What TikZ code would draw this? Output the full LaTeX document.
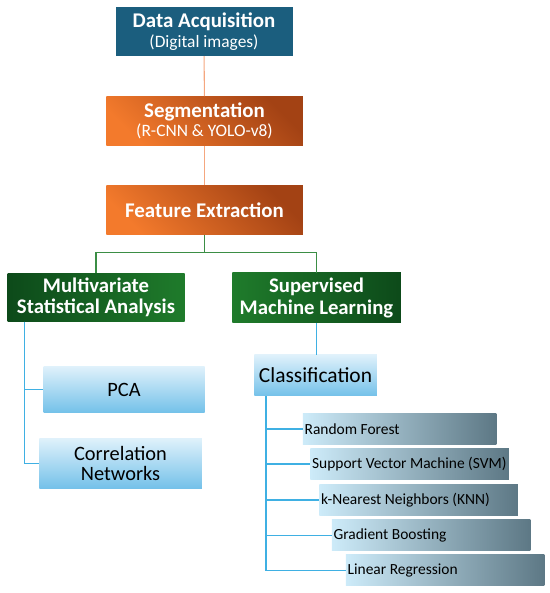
\documentclass[tikz,border=0pt]{standalone}
\usepackage{fontspec}
\setmainfont{Carlito}
\usepackage{xcolor}
\definecolor{acqBlue}{HTML}{1B5E7E}
\definecolor{segLight}{HTML}{F37A2C}
\definecolor{segDark}{HTML}{A34214}
\definecolor{grnDark}{HTML}{0D4A1A}
\definecolor{grnLight}{HTML}{1F7B2B}
\definecolor{boxTop}{HTML}{DFF1FB}
\definecolor{boxBot}{HTML}{74C1E9}
\definecolor{algLeft}{HTML}{CDEBF9}
\definecolor{algRight}{HTML}{5D7885}
\definecolor{orLine}{HTML}{F5A77F}
\definecolor{grLine}{HTML}{3B8E45}
\definecolor{blLine}{HTML}{3FB0E3}
\usepackage{tikz}
\usetikzlibrary{calc}
\newcommand{\titlefont}{\fontsize{11.9}{13}\selectfont\bfseries}
\newcommand{\subfont}{\fontsize{9.9}{11}\selectfont}

\begin{document}
\begin{tikzpicture}[>=stealth,
    stagebox/.style={text=white, align=center, inner sep=0pt},
    orbox/.style={stagebox, bottom color=segLight, top color=segDark, shading angle=-45,
      minimum width=3.93cm, minimum height=0.98cm},
    branchbox/.style={stagebox, minimum height=0.95cm, font=\fontsize{11.8}{12.2}\selectfont\bfseries},
    toolbox/.style={top color=boxTop, bottom color=boxBot, align=center, inner sep=0pt},
    algbox/.style={left color=algLeft, right color=algRight, anchor=west,
      inner xsep=0pt, inner ysep=0pt, minimum height=0.62cm, font=\fontsize{8.8}{10}\selectfont},
    orline/.style={orLine, line width=0.6pt},
    grline/.style={grLine, line width=0.6pt},
    blline/.style={blLine, line width=0.9pt}]
  \useasboundingbox (0,0) rectangle (11,11.86);
  % ------- pipeline: acquisition, segmentation, features -------
  \node[stagebox, fill=acqBlue, minimum width=3.54cm, minimum height=0.97cm] (acq) at (4.08,11.23)
    {{\titlefont Data Acquisition}\\[-1pt]{\subfont (Digital images)}};
  \node[orbox] (seg) at (4.09,9.44)
    {{\titlefont Segmentation}\\[-1pt]{\subfont (R-CNN \& YOLO-v8)}};
  \node[orbox] (feat) at (4.09,7.66) {\titlefont Feature Extraction};
  \draw[orline] (acq) -- (seg);
  \draw[orline] (seg) -- (feat);
  % ------- two branches -------
  \node[branchbox, left color=grnDark, right color=grnLight, minimum width=3.54cm] (msa) at (1.92,5.91)
    {Multivariate\\Statistical Analysis};
  \node[branchbox, left color=grnLight, right color=grnDark, minimum width=3.37cm, minimum height=1.0cm] (sml) at (6.33,5.90)
    {Supervised\\Machine Learning};
  \coordinate (split) at ($(feat.south)+(0,-0.36)$);
  \draw[grline] (feat.south) -- (split);
  \draw[grline] (split) -| (msa.north);
  \draw[grline] (split) -| (sml.north);
  % ------- left: statistics -------
  \node[toolbox, minimum width=3.22cm, minimum height=0.92cm, font=\fontsize{11.6}{11.2}\selectfont] (pca) at (2.48,4.07) {PCA};
  \node[toolbox, minimum width=3.25cm, minimum height=1.0cm, font=\fontsize{11.6}{11.2}\selectfont] (corr) at (2.41,2.59)
    {Correlation\\Networks};
  \coordinate (mtop) at ($(msa.south west)+(0.35,0)$);
  \draw[blline] (mtop) |- (pca.west);
  \draw[blline] (mtop) |- (corr.west);
  % ------- right: classifiers -------
  \node[toolbox, minimum width=2.45cm, minimum height=0.82cm, font=\fontsize{12.2}{13}\selectfont] (cls) at (6.31,4.35) {Classification};
  \draw[blline] (sml.south) -- (sml.south |- cls.north);
  \coordinate (ctop) at ($(cls.south west)+(0.24,0)$);
  \foreach \nm/\x/\y/\w/\lab in {rf/6.05/3.28/3.87/{Random Forest},
      svm/6.20/2.58/3.97/{Support Vector Machine (SVM)},
      knn/6.38/1.86/3.97/{k-Nearest Neighbors (KNN)},
      gb/6.63/1.15/3.97/{Gradient Boosting},
      lr/6.91/0.45/3.97/{Linear Regression}} {
    \node[algbox] (\nm) at (\x,\y) {\makebox[\w cm][l]{\hspace{1pt}\lab}};
    \draw[blline] (ctop |- \nm.west) -- (\nm.west);
  }
  \draw[blline] (ctop) |- (lr.west);
\end{tikzpicture}
\end{document}
